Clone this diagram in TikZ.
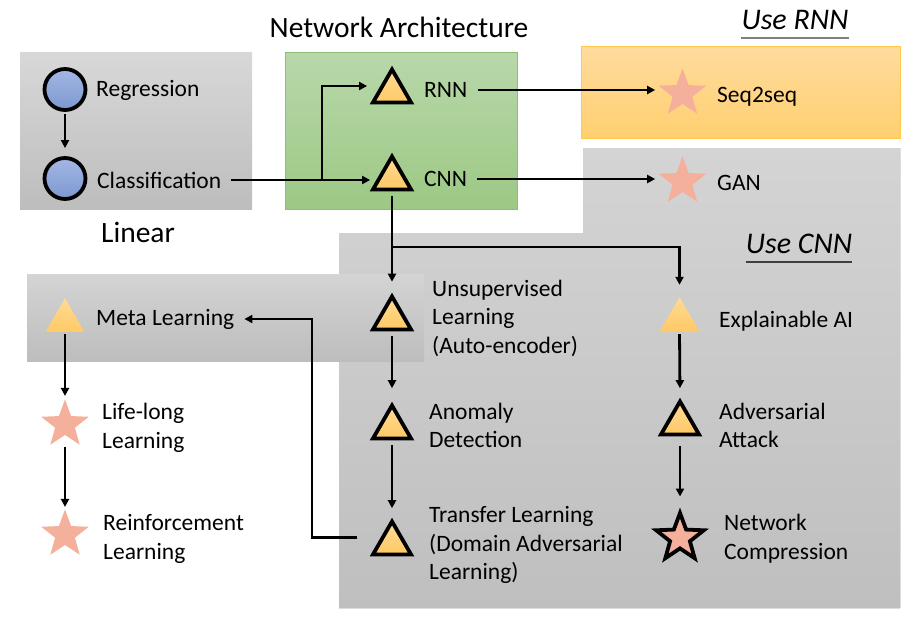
\documentclass[tikz,border=0pt]{standalone}
\usepackage{fontspec}
\setmainfont{Carlito}
\usetikzlibrary{shapes.geometric,arrows.meta,positioning}

\definecolor{linTop}{HTML}{D8D8D8}
\definecolor{linBot}{HTML}{BDBDBD}
\definecolor{netTop}{HTML}{B8D8AA}
\definecolor{netBot}{HTML}{9CC884}
\definecolor{netLine}{HTML}{8CBF70}
\definecolor{rnnTop}{HTML}{FFDC9E}
\definecolor{rnnBot}{HTML}{FFCF70}
\definecolor{rnnLine}{HTML}{FFC84A}
\definecolor{cnnTop}{HTML}{D4D4D4}
\definecolor{cnnBot}{HTML}{BFBFBF}
\definecolor{triTop}{HTML}{FFDA94}
\definecolor{triBot}{HTML}{FFC965}
\definecolor{dotTop}{HTML}{A3B7E3}
\definecolor{dotBot}{HTML}{7D98D0}
\definecolor{starFill}{HTML}{F4B09A}

\begin{document}
\begin{tikzpicture}[x=1pt,y=-1pt,
    conn/.style={line width=2.8pt, -{Triangle[length=8pt,width=8pt]}},
    lbl/.style={font=\fontsize{23.5}{28.5}\selectfont, anchor=west, align=left, inner sep=0pt},
    head/.style={font=\fontsize{29.5}{34}\selectfont, inner sep=0pt},
    uhead/.style={font=\fontsize{30}{34}\selectfont\itshape, inner sep=0pt},
    tri/.style={regular polygon, regular polygon sides=3, minimum size=44pt, inner sep=0pt,
        draw=black, line width=3.8pt, top color=triTop, bottom color=triBot},
    softtri/.style={regular polygon, regular polygon sides=3, minimum size=45pt, inner sep=0pt,
        top color=triTop, bottom color=triBot},
    pstar/.style={star, star points=5, star point ratio=2.4, minimum size=50pt, inner sep=0pt, fill=starFill},
    dot/.style={circle, minimum size=41pt, inner sep=0pt, draw=black, line width=3.8pt,
        top color=dotTop, bottom color=dotBot}]
    \useasboundingbox (0,0) rectangle (909,616);

    % Draw the group boxes
    \fill[top color=linTop, bottom color=linBot] (20,52) rectangle (252,209);
    \fill[top color=netTop, bottom color=netBot, draw=netLine, line width=1pt] (285,52) rectangle (517,209);
    \fill[top color=rnnTop, bottom color=rnnBot, draw=rnnLine, line width=1pt] (581,46) rectangle (900,138);
    \fill[top color=cnnTop, bottom color=cnnBot] (583,148) -- (900,148) -- (900,608) -- (339,608) -- (339,233) -- (583,233) -- cycle;
    \fill[top color=cnnTop, bottom color=linBot] (27,274) rectangle (424,361);

    % Draw the titles
    \node[head] (netH) at (399,27) {Network Architecture};
    \node[head] (linH) at (138,232) {Linear};
    \node[uhead] (useR) at (795,20) {Use RNN};
    \node[uhead] (useC) at (799,244) {Use CNN};
    \draw[line width=1.6pt, gray] ([yshift=-8pt]useR.south west) -- ([yshift=-8pt]useR.south east);
    \draw[line width=1.6pt, black!75] ([yshift=-8pt]useC.south west) -- ([yshift=-8pt]useC.south east);

    % Draw the linear models
    \node[dot] (reg) at (65,89.5) {};
    \node[dot] (cls) at (65,178.5) {};
    \node[lbl] (regT) at (96,90) {Regression};
    \node[lbl] (clsT) at (97,180) {Classification};

    % Draw the network architectures
    \node[tri] (rnn) at (392,91.5) {};
    \node[tri] (cnn) at (392,178.5) {};
    \node[lbl] (rnnT) at (424,90) {RNN};
    \node[lbl] (cnnT) at (424,179) {CNN};

    % Draw the RNN branch
    \node[pstar] (seq) at (682.5,93.5) {};
    \node[lbl] (seqT) at (717,97) {Seq2seq};

    % Draw the CNN branch
    \node[pstar] (gan) at (682.5,181.5) {};
    \node[lbl] (ganT) at (717,183) {GAN};
    \node[tri] (unsup) at (392,318.5) {};
    \node[tri] (anom) at (392,427.5) {};
    \node[tri] (trans) at (392,543.5) {};
    \node[lbl] (unsupT) at (432,318) {Unsupervised\\Learning\\(Auto-encoder)};
    \node[lbl] (anomT) at (429,425.5) {Anomaly\\Detection};
    \node[lbl] (transT) at (429,545) {Transfer Learning\\(Domain Adversarial\\Learning)};
    \node[softtri] (expl) at (679.5,319.7) {};
    \node[tri] (adv) at (680,423.5) {};
    \node[pstar, draw=black, line width=3.8pt, minimum size=50pt] (net) at (680,538) {};
    \node[lbl] (explT) at (719,321) {Explainable AI};
    \node[lbl] (advT) at (719,425.5) {Adversarial\\Attack};
    \node[lbl] (netT) at (724,538.5) {Network\\Compression};

    % Draw the meta learning chain
    \node[softtri] (meta) at (65,320.7) {};
    \node[pstar] (life) at (65,424.5) {};
    \node[pstar] (reinf) at (65,534.5) {};
    \node[lbl] (metaT) at (96,319) {Meta Learning};
    \node[lbl] (lifeT) at (102,428) {Life-long\\Learning};
    \node[lbl] (reinfT) at (103,539) {Reinforcement\\Learning};

    % Draw the connectors
    \coordinate (split) at (322,180);
    \coordinate (fork) at (392,247);
    \coordinate (turn) at (312,0);
    \coordinate (tl) at ([yshift=6pt]trans.west);
    \draw[conn, shorten <=2pt, shorten >=8pt] (reg) -- (cls);
    \draw[conn, shorten <=10pt, shorten >=7pt] (clsT.east) -- (clsT.east -| cnn.west);
    \draw[conn, shorten >=10pt] (split) |- ([yshift=5.5pt]rnn.west);
    \draw[conn, shorten <=10pt, shorten >=13pt] (rnnT.east) -- (rnnT.east -| seq.west);
    \draw[conn, shorten <=10pt, shorten >=13pt] (cnnT.east) -- (cnnT.east -| gan.west);
    \draw[conn, shorten <=5pt, shorten >=11pt] (cnn.south) -- (unsup.north);
    \draw[conn, shorten >=12pt] (fork) -| (expl.north);
    \draw[conn, shorten <=4.5pt, shorten >=13.5pt] (unsup.south) -- (anom.north);
    \draw[conn, shorten <=4.5pt, shorten >=9.5pt] (anom.south) -- (trans.north);
    \draw[conn, shorten <=3pt, shorten >=9.5pt] (expl.south) -- (adv.north);
    \draw[conn, shorten <=10pt, shorten >=11pt] (adv.south) -- (net.north);
    \draw[conn, shorten <=2pt, shorten >=3pt] (meta.south) -- (life.north);
    \draw[conn, shorten <=12pt, shorten >=2pt] (life.south) -- (reinf.north);
    \draw[conn, shorten <=20pt, shorten >=10pt] (tl) -- (tl -| turn) |- (metaT.east);
\end{tikzpicture}
\end{document}
